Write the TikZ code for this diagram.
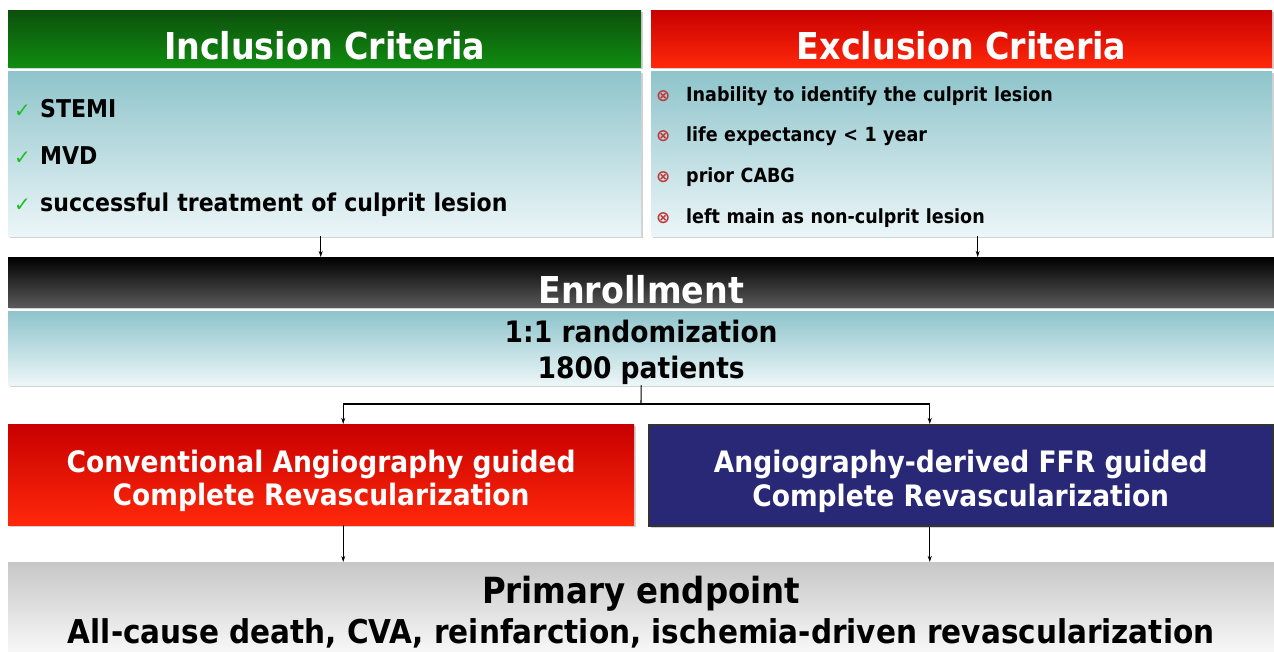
\documentclass[tikz,border=0pt]{standalone}
\usepackage{fontspec}
\setmainfont{DejaVu Sans Condensed}
\newfontfamily\symfont{DejaVu Sans}
\usepackage{tikz}
\usetikzlibrary{arrows.meta,shadows}

\definecolor{hdgreen}{RGB}{12,80,12}
\definecolor{hdgreenlo}{RGB}{16,140,16}
\definecolor{hdred}{RGB}{200,0,0}
\definecolor{hdredlo}{RGB}{255,40,10}
\definecolor{panelhi}{RGB}{142,196,203}
\definecolor{panello}{RGB}{236,246,248}
\definecolor{navy}{RGB}{40,40,118}
\definecolor{okgreen}{RGB}{30,190,30}
\definecolor{nored}{RGB}{190,60,60}

\tikzset{
  box/.style={inner sep=0pt, drop shadow={shadow xshift=2pt, shadow yshift=-2pt, fill=black!35}},
  header/.style={box, minimum height=57pt, text height=49.5pt, text depth=7.5pt,
    top color=#1, bottom color=#1lo, text=white, font=\bfseries\fontsize{37}{37}\selectfont},
  panel/.style={box, top color=panelhi, bottom color=panello},
  arr/.style={-{Stealth[length=6pt,width=4pt]}, line width=1.1pt},
  line/.style={line width=1.1pt}
}
\newcommand{\ok}{\makebox[26pt][l]{\textcolor{okgreen}{\symfont\fontsize{20}{20}\selectfont ✓}}}
\newcommand{\no}{\makebox[30pt][l]{\textcolor{nored}{\symfont\fontsize{17}{17}\selectfont ⊗}}}

\begin{document}
\begin{tikzpicture}[x=1pt, y=-1pt]
\useasboundingbox (0,0) rectangle (1274,651);

% criteria
\node[header=hdgreen, minimum width=633pt, anchor=north west] (inchead) at (8,10) {Inclusion Criteria};
\node[header=hdred, minimum width=621pt, anchor=north west] (exchead) at (651,10) {Exclusion Criteria};
\node[panel, minimum width=633pt, minimum height=165pt, text width=621pt, inner xsep=6pt,
      text height=46pt, text depth=119pt, align=left, anchor=north west,
      font=\bfseries\fontsize{24.5}{47}\selectfont] (incbody) at (8,71)
  {\ok STEMI\\ \ok MVD\\ \ok successful treatment of culprit lesion};
\node[panel, minimum width=621pt, minimum height=165pt, text width=611pt, inner xsep=5pt,
      text height=30pt, text depth=135pt, align=left, anchor=north west,
      font=\bfseries\fontsize{19.5}{40.7}\selectfont] (excbody) at (651,71)
  {\no Inability to identify the culprit lesion\\ \no life expectancy < 1 year\\
   \no prior CABG\\ \no left main as non-culprit lesion};

% enrollment
\node[box, minimum width=1266pt, minimum height=50pt, text height=46pt, text depth=4pt,
      anchor=north west, top color=black, bottom color=black!65, text=white,
      font=\bfseries\fontsize{37}{37}\selectfont] (enroll) at (8,257) {Enrollment};
\node[panel, minimum width=1266pt, minimum height=74pt, text height=67pt, text depth=7pt,
      anchor=north west, align=center, font=\bfseries\fontsize{29.5}{36}\selectfont] (rand) at (8,311)
  {1:1 randomization\\ 1800 patients};

% study arms
\node[box, minimum width=626pt, minimum height=101pt, text height=81.5pt, text depth=19.5pt,
      anchor=north west, top color=hdred, bottom color=hdredlo, text=white, align=center,
      font=\bfseries\fontsize{29.5}{33.5}\selectfont] (conv) at (8,424)
  {Conventional Angiography guided\\ Complete Revascularization};
\node[box, draw=black!80, line width=1.5pt, fill=navy, minimum width=624pt, minimum height=101pt,
      text height=81.5pt, text depth=19.5pt, anchor=north west, text=white, align=center,
      font=\bfseries\fontsize{29.5}{33.5}\selectfont] (ffr) at (648,424)
  {Angiography-derived FFR guided\\ Complete Revascularization};

% endpoint
\node[inner sep=0pt, minimum width=1266pt, minimum height=89pt, text height=81pt, text depth=8pt,
      anchor=north west, top color=black!22, bottom color=black!3, align=center,
      font=\bfseries\fontsize{32.8}{40}\selectfont] (endpt) at (8,562)
  {{\fontsize{36}{40}\selectfont Primary endpoint}\\ All-cause death, CVA, reinfarction, ischemia-driven revascularization};

\draw[arr] ([xshift=-4pt]incbody.south) -- ([xshift=-4pt]incbody.south |- enroll.north);
\draw[arr] ([xshift=16pt]excbody.south) -- ([xshift=16pt]excbody.south |- enroll.north);
\coordinate (split) at (641,404);
\draw[line] (rand.south) -- (split);
\draw[arr] (split) -| ([xshift=22pt]conv.north);
\draw[arr] (split) -| ([xshift=-31pt]ffr.north);
\draw[arr] ([xshift=22pt]conv.south) -- ([xshift=22pt]conv.south |- endpt.north);
\draw[arr] ([xshift=-31pt]ffr.south) -- ([xshift=-31pt]ffr.south |- endpt.north);
\end{tikzpicture}
\end{document}
